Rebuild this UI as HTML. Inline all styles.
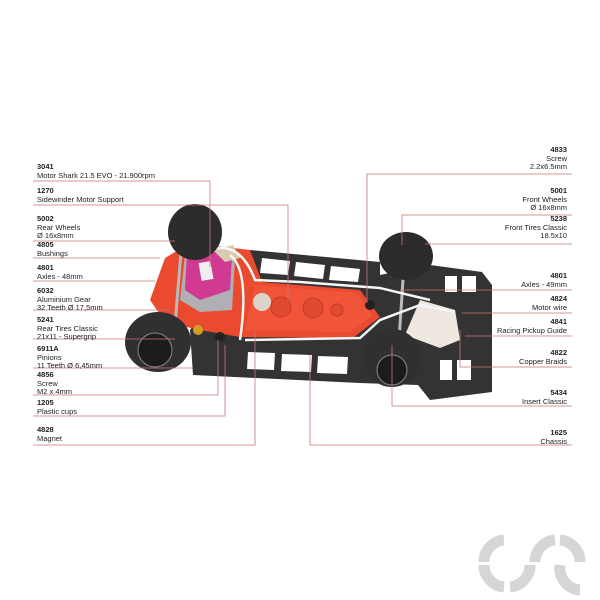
<!DOCTYPE html>
<html><head><meta charset="utf-8"><style>
html,body{margin:0;padding:0;background:#fff}
body{width:600px;height:600px;position:relative;overflow:hidden;font-family:"Liberation Sans",sans-serif;color:#222}
.l{position:absolute;font-size:7.5px;line-height:8.5px}
.l b{font-weight:bold}
.r{text-align:right;right:33px}
.lf{left:37px}
</style></head><body>
<svg width="600" height="600" style="position:absolute;left:0;top:0">
<g>
<!-- chassis frame -->
<polygon points="190,330 250,250 380,262 380,275 430,265 482,272 492,285 492,392 430,400 418,385 360,383 193,375" fill="#333"/>
<!-- chassis windows -->
<g fill="#fff">
<polygon points="262,258 290,261 288,275 260,273"/>
<polygon points="296,262 325,265 323,279 294,276"/>
<polygon points="331,266 360,269 358,282 329,280"/>
<polygon points="248,352 275,353 274,370 247,369"/>
<polygon points="282,354 312,355 311,372 281,371"/>
<polygon points="318,356 348,357 347,374 317,373"/>
<rect x="445" y="276" width="12" height="16"/><rect x="462" y="276" width="14" height="16"/>
<rect x="440" y="360" width="12" height="20"/><rect x="457" y="360" width="14" height="20"/>
</g>
<polygon points="420,300 455,310 460,340 440,348 405,335" fill="#eee8e0"/>
<!-- red pod -->
<polygon points="165,258 190,243 250,250 262,282 360,290 380,317 353,338 240,337 200,330 165,322 150,300" fill="#ea4a2e"/>
<polygon points="255,285 358,293 372,316 350,332 245,330" fill="#f0553a"/>
<circle cx="262" cy="302" r="9" fill="#dcd4c8"/><circle cx="281" cy="307" r="10" fill="#e04a30" stroke="#c53a22"/><circle cx="313" cy="308" r="10" fill="#e04a30" stroke="#c53a22"/><circle cx="337" cy="310" r="6" fill="#e04a30" stroke="#c53a22"/>
<!-- motor -->
<polygon points="185,255 215,245 235,258 232,310 200,312 180,300" fill="#b0b0b4"/>
<polygon points="187,253 215,244 232,256 230,290 200,300 185,290" fill="#d03a92"/>
<rect x="200" y="262" width="12" height="18" fill="#eee" transform="rotate(-10 206 271)"/>
<polygon points="213,250 233,245 240,258 225,262" fill="#d8cbb0"/>
<circle cx="198" cy="330" r="5" fill="#d4a020"/>
<!-- axles / wires -->
<line x1="182" y1="240" x2="175" y2="325" stroke="#bbb" stroke-width="3"/>
<line x1="404" y1="265" x2="399" y2="340" stroke="#bbb" stroke-width="3"/>
<path d="M210,250 Q240,240 255,280 L300,282 L380,288 L430,300 M245,340 L360,338 L380,320 L420,305 L455,312 M230,255 Q250,270 240,340" stroke="#f6f6f6" stroke-width="2.5" fill="none"/>
<!-- wheels -->
<ellipse cx="195" cy="232" rx="27" ry="28" fill="#2c2c2c"/>
<ellipse cx="158" cy="342" rx="33" ry="30" fill="#303030"/>
<circle cx="155" cy="350" r="17" fill="#1c1c1c" stroke="#888" stroke-width="1"/>
<ellipse cx="406" cy="256" rx="27" ry="24" fill="#2c2c2c"/>
<ellipse cx="392" cy="358" rx="29" ry="29" fill="#303030"/>
<circle cx="392" cy="370" r="15" fill="#1c1c1c" stroke="#888" stroke-width="1"/>
<circle cx="220" cy="337" r="5" fill="#222"/><circle cx="370" cy="305" r="5" fill="#222"/>
</g>
<!-- leader lines -->
<g stroke="#c9767a" stroke-width="0.8" fill="none">
<polyline points="33,181 210,181 210,267"/>
<polyline points="33,205 288,205 288,302"/>
<polyline points="33,241 175,241"/>
<polyline points="33,258 160,258"/>
<polyline points="33,281 155,281"/>
<polyline points="33,310 170,310"/>
<polyline points="33,339 175,339"/>
<polyline points="33,368 193,368"/>
<polyline points="33,395 218,395 218,340"/>
<polyline points="33,416 225,416 225,345"/>
<polyline points="33,445 255,445 255,330"/>
<polyline points="572,174 367,174 367,303"/>
<polyline points="572,215 402,215 402,245"/>
<polyline points="572,244 425,244"/>
<polyline points="572,290 400,290"/>
<polyline points="572,313 462,313"/>
<polyline points="572,336 465,336"/>
<polyline points="572,367 460,367 460,330"/>
<polyline points="572,406 392,406 392,345"/>
<polyline points="572,445 310,445 310,355"/>
</g>
<!-- logo -->
<g fill="none" stroke="#d6d6d6" stroke-width="11">
<path d="M504,540 A22,22 0 0 0 484,562"/>
<path d="M484,565 A22,22 0 0 0 504,587"/>
<path d="M510,587 A22,22 0 0 0 530,565"/>
<path d="M535,562 A22,22 0 0 1 555,540"/>
<path d="M560,540 A22,22 0 0 1 580,562"/>
<path d="M560,565 A22,22 0 0 0 580,590"/>
</g>
</svg>
<div class="l lf" style="top:163px"><b>3041</b><br>Motor Shark 21.5 EVO - 21.900rpm</div>
<div class="l lf" style="top:187px"><b>1270</b><br>Sidewinder Motor Support</div>
<div class="l lf" style="top:215px"><b>5002</b><br>Rear Wheels<br>Ø 16x8mm</div>
<div class="l lf" style="top:241px"><b>4805</b><br>Bushings</div>
<div class="l lf" style="top:264px"><b>4801</b><br>Axles - 48mm</div>
<div class="l lf" style="top:287px"><b>6032</b><br>Aluminium Gear<br>32 Teeth Ø 17,5mm</div>
<div class="l lf" style="top:316px"><b>5241</b><br>Rear Tires Classic<br>21x11 - Supergrip</div>
<div class="l lf" style="top:345px"><b>6911A</b><br>Pinions<br>11 Teeth Ø 6,45mm</div>
<div class="l lf" style="top:371px"><b>4856</b><br>Screw<br>M2 x 4mm</div>
<div class="l lf" style="top:399px"><b>1205</b><br>Plastic cups</div>
<div class="l lf" style="top:426px"><b>4828</b><br>Magnet</div>
<div class="l r" style="top:146px"><b>4833</b><br>Screw<br>2.2x6.5mm</div>
<div class="l r" style="top:187px"><b>5001</b><br>Front Wheels<br>Ø 16x8mm</div>
<div class="l r" style="top:215px"><b>5238</b><br>Front Tires Classic<br>18.5x10</div>
<div class="l r" style="top:272px"><b>4801</b><br>Axles - 49mm</div>
<div class="l r" style="top:295px"><b>4824</b><br>Motor wire</div>
<div class="l r" style="top:318px"><b>4841</b><br>Racing Pickup Guide</div>
<div class="l r" style="top:349px"><b>4822</b><br>Copper Braids</div>
<div class="l r" style="top:389px"><b>5434</b><br>Insert Classic</div>
<div class="l r" style="top:429px"><b>1625</b><br>Chassis</div>
</body></html>
